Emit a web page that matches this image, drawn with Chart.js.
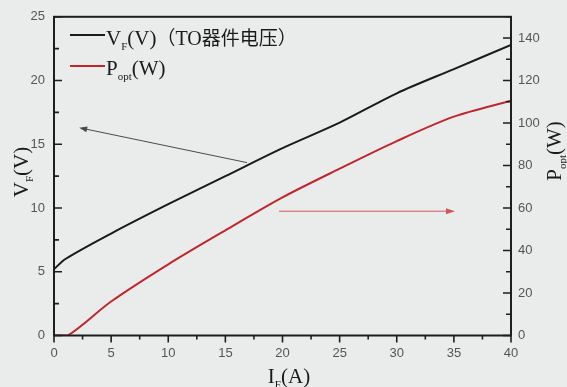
<!DOCTYPE html>
<html>
<head>
<meta charset="utf-8">
<script src="https://cdn.jsdelivr.net/npm/chart.js@4"></script>
<style>
  html, body { margin: 0; padding: 0; background: #eaebeb; }
  #wrap { width: 567px; height: 387px; }
</style>
</head>
<body>
<div id="wrap"><canvas id="chart" width="567" height="387"></canvas></div>
<script>
// forward current I_F (A)
const currentVF = [0, 1, 5, 10, 15, 20, 25, 30, 35, 40];
const voltageVF = [5.2, 6.0, 8.0, 10.3, 12.5, 14.7, 16.7, 19.0, 20.9, 22.8];

const currentPopt = [0, 1.2, 5, 10, 15, 20, 25, 30, 35, 40];
const powerPopt = [0, 0, 16, 33.5, 49.5, 65, 78.5, 91.5, 103, 110.5];

// annotation arrows, [I, value] from tail to tip
const arrowVF = [[16.9, 13.56], [2.2, 16.3]];
const arrowPopt = [[19.7, 58.5], [35.1, 58.5]];

const serif = '"Liberation Serif", "Times New Roman", serif';
const sans = '"Liberation Sans", Arial, sans-serif';
const cjk = '"Noto Sans CJK SC", sans-serif';

// draw text with parts: [text, font, dy]
function drawParts(ctx, x, y, parts) {
    let cx = x;
    parts.forEach(p => {
        ctx.font = p[1];
        ctx.fillText(p[0], cx, y + (p[2] || 0));
        cx += ctx.measureText(p[0]).width;
    });
    return cx - x;
}
function partsWidth(ctx, parts) {
    let w = 0;
    parts.forEach(p => { ctx.font = p[1]; w += ctx.measureText(p[0]).width; });
    return w;
}

function arrow(ctx, x1, y1, x2, y2, color, head) {
    ctx.save();
    ctx.strokeStyle = color;
    ctx.fillStyle = color;
    ctx.lineWidth = 1;
    const a = Math.atan2(y2 - y1, x2 - x1);
    ctx.beginPath();
    ctx.moveTo(x1, y1);
    ctx.lineTo(x2 - Math.cos(a) * head * 0.6, y2 - Math.sin(a) * head * 0.6);
    ctx.stroke();
    ctx.beginPath();
    ctx.moveTo(x2, y2);
    ctx.lineTo(x2 - head * Math.cos(a) + 3 * Math.sin(a), y2 - head * Math.sin(a) - 3 * Math.cos(a));
    ctx.lineTo(x2 - head * Math.cos(a) - 3 * Math.sin(a), y2 - head * Math.sin(a) + 3 * Math.cos(a));
    ctx.closePath();
    ctx.fill();
    ctx.restore();
}

const decor = {
    id: 'decor',
    afterDraw(chart) {
        const ctx = chart.ctx;
        const a = chart.chartArea;
        const sx = chart.scales.x, sy = chart.scales.y, sy2 = chart.scales.y2;
        ctx.save();
        // frame
        ctx.strokeStyle = '#1e1e1e';
        ctx.lineWidth = 2;
        ctx.strokeRect(a.left, a.top, a.right - a.left, a.bottom - a.top);
        ctx.lineWidth = 1.6;
        ctx.beginPath();
        // bottom ticks (outward)
        for (let v = 0; v <= 40; v += 2.5) {
            const px = sx.getPixelForValue(v);
            const len = v % 5 === 0 ? 7 : 4;
            ctx.moveTo(px, a.bottom);
            ctx.lineTo(px, a.bottom + len);
        }
        // left ticks (inward)
        for (let v = 0; v <= 25; v += 2.5) {
            const py = sy.getPixelForValue(v);
            const len = v % 5 === 0 ? 8 : 5;
            ctx.moveTo(a.left, py);
            ctx.lineTo(a.left + len, py);
        }
        // right ticks (inward)
        for (let v = 0; v <= 150; v += 10) {
            const py = sy2.getPixelForValue(v);
            const len = v % 20 === 0 ? 8 : 5;
            ctx.moveTo(a.right, py);
            ctx.lineTo(a.right - len, py);
        }
        ctx.stroke();

        // arrows
        arrow(ctx, sx.getPixelForValue(arrowVF[0][0]), sy.getPixelForValue(arrowVF[0][1]),
            sx.getPixelForValue(arrowVF[1][0]), sy.getPixelForValue(arrowVF[1][1]), '#4a4a4a', 8);
        arrow(ctx, sx.getPixelForValue(arrowPopt[0][0]), sy2.getPixelForValue(arrowPopt[0][1]),
            sx.getPixelForValue(arrowPopt[1][0]), sy2.getPixelForValue(arrowPopt[1][1]), '#d0585a', 9);

        // legend
        ctx.fillStyle = '#1a1a1a';
        ctx.textBaseline = 'alphabetic';
        ctx.textAlign = 'left';
        ctx.lineWidth = 2;
        ctx.strokeStyle = '#1a1a1a';
        ctx.beginPath(); ctx.moveTo(70, 35); ctx.lineTo(105, 35); ctx.stroke();
        ctx.strokeStyle = '#c0272d';
        ctx.beginPath(); ctx.moveTo(70, 66); ctx.lineTo(105, 66); ctx.stroke();
        drawParts(ctx, 106, 45, [['V', '21px ' + serif], ['F', '11px ' + serif, 5],
            ['(V)', '21px ' + serif], ['（', '19px ' + cjk], ['TO', '20px ' + serif],
            ['器件电压', '19px ' + cjk], ['）', '19px ' + cjk]]);
        drawParts(ctx, 106, 75, [['P', '21px ' + serif], ['opt', '11px ' + serif, 5],
            ['(W)', '21px ' + serif]]);

        // axis titles
        const xt = [['I', '21px ' + serif], ['F', '11px ' + serif, 5], ['(A)', '21px ' + serif]];
        drawParts(ctx, 289 - partsWidth(ctx, xt) / 2, 383, xt);

        const yt = [['V', '21px ' + serif], ['F', '11px ' + serif, 5], ['(V)', '21px ' + serif]];
        ctx.save();
        ctx.translate(28, 172);
        ctx.rotate(-Math.PI / 2);
        drawParts(ctx, -partsWidth(ctx, yt) / 2, 0, yt);
        ctx.restore();

        const y2t = [['P', '21px ' + serif], ['opt', '11px ' + serif, 5], ['(W)', '21px ' + serif]];
        ctx.save();
        ctx.translate(561, 151);
        ctx.rotate(-Math.PI / 2);
        drawParts(ctx, -partsWidth(ctx, y2t) / 2, 0, y2t);
        ctx.restore();
        ctx.restore();
    }
};

const tickFont = { family: sans, size: 13 };
const tickColor = '#555';

new Chart(document.getElementById('chart'), {
    type: 'line',
    data: {
        datasets: [{
            label: 'VF(V)',
            data: currentVF.map((x, i) => ({ x: x, y: voltageVF[i] })),
            borderColor: '#1a1a1a',
            borderWidth: 2,
            pointRadius: 0,
            tension: 0.3,
            yAxisID: 'y'
        }, {
            label: 'Popt(W)',
            data: currentPopt.map((x, i) => ({ x: x, y: powerPopt[i] })),
            borderColor: '#c0272d',
            borderWidth: 2,
            pointRadius: 0,
            tension: 0.3,
            yAxisID: 'y2'
        }]
    },
    options: {
        responsive: false,
        animation: false,
        layout: { padding: { top: 15, left: 0, right: 0, bottom: 0 } },
        plugins: { legend: { display: false }, tooltip: { enabled: false } },
        scales: {
            x: {
                type: 'linear', min: 0, max: 40,
                ticks: {
                    stepSize: 2.5, padding: 10, maxRotation: 0, autoSkip: false,
                    font: tickFont, color: tickColor,
                    callback: v => (v % 5 === 0 ? v : '')
                },
                grid: { display: false, drawTicks: false },
                border: { display: false },
                afterFit: s => { s.height = 51.5; }
            },
            y: {
                type: 'linear', position: 'left', min: 0, max: 25,
                ticks: {
                    stepSize: 2.5, padding: 9, autoSkip: false,
                    font: tickFont, color: tickColor,
                    callback: v => (v % 5 === 0 ? v : '')
                },
                grid: { display: false, drawTicks: false },
                border: { display: false },
                afterFit: s => { s.width = 54; }
            },
            y2: {
                type: 'linear', position: 'right', min: 0, max: 150,
                ticks: {
                    stepSize: 10, padding: 7, autoSkip: false,
                    font: tickFont, color: tickColor,
                    callback: v => (v % 20 === 0 && v < 150 ? v : '')
                },
                grid: { display: false, drawTicks: false },
                border: { display: false },
                afterFit: s => { s.width = 56; }
            }
        }
    },
    plugins: [decor]
});
</script>
</body>
</html>
